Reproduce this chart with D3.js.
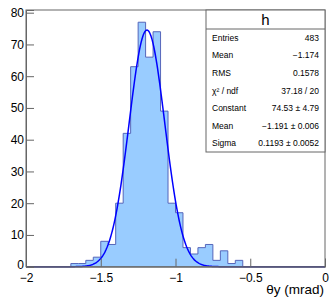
<!DOCTYPE html>
<html>
<head>
<meta charset="utf-8">
<script src="https://cdn.jsdelivr.net/npm/d3@7"></script>
<style>
	body{margin:0;background:#fff;}
	svg{display:block;font-family:"Liberation Sans",Arial,sans-serif;}
</style>
</head>
<body>
<svg id="chart" width="333" height="300"></svg>
<script>
// histogram h : 40 bins from -2 to 0
var xLow = -2, xHigh = 0;
var counts = [0,0,0,0,0,0,1,1,2,3,8,7,20,42,63,77,66,74,49,20,17,6,4,6,7,2,5,1,2,0,0,0,0,0,0,0,0,0,0,0];
var xTicks = [-2,-1.5,-1,-0.5,0];
var yTicks = [0,10,20,30,40,50,60,70,80];
var yMax = 80.85;

// gaus fit parameters (Constant, Mean, Sigma)
var fitParams = [74.53, -1.191, 0.1193];

var statLabels = ["Entries","Mean","RMS","\u03c7\u00b2 / ndf","Constant","Mean","Sigma"];
var statValues = ["483","\u22121.174","0.1578","37.18 / 20","74.53 \u00b1 4.79","\u22121.191 \u00b1 0.006","0.1193 \u00b1 0.0052"];

var L = 26, R = 325, T = 10, B = 266.7;
var svg = d3.select('#chart');

var x = d3.scaleLinear().domain([xLow, xHigh]).range([L, R]);
var y = d3.scaleLinear().domain([0, yMax]).range([B, T]);

var binW = (xHigh - xLow) / counts.length;
var pts = counts.map(function(c, i){ return [xLow + i*binW, c]; });
pts.push([xHigh, counts[counts.length-1]]);

svg.append('path')
	.datum(pts)
	.attr('fill', '#99ccff')
	.attr('d', d3.area().curve(d3.curveStepAfter)
		.x(function(d){ return x(d[0]); })
		.y0(y(0))
		.y1(function(d){ return y(d[1]); }));

svg.append('path')
	.datum(pts)
	.attr('fill', 'none')
	.attr('stroke', '#5566bb')
	.attr('stroke-width', 1)
	.attr('d', d3.line().curve(d3.curveStepAfter)
		.x(function(d){ return x(d[0]); })
		.y(function(d){ return y(d[1]); }));

// fit curve
var gaus = function(v){
	var t = (v - fitParams[1]) / fitParams[2];
	return fitParams[0] * Math.exp(-0.5*t*t);
};
var fx = x.ticks(400);
svg.append('path')
	.datum(fx)
	.attr('fill', 'none')
	.attr('stroke', '#0000ff')
	.attr('stroke-width', 1.5)
	.attr('d', d3.line()
		.x(function(d){ return x(d); })
		.y(function(d){ return y(gaus(d)); }));

// frame
svg.append('rect')
	.attr('x', L).attr('y', T)
	.attr('width', R - L).attr('height', B - T)
	.attr('fill', 'none').attr('stroke', '#666');

var fmt = d3.format('');

var gx = svg.append('g').attr('transform', 'translate(0,' + B + ')');
gx.call(d3.axisBottom(x).tickValues(x.ticks(20)).tickSize(-4).tickFormat(''));
gx.call(d3.axisBottom(x).tickValues(xTicks).tickSize(-8).tickPadding(7).tickFormat(fmt));

var gy = svg.append('g').attr('transform', 'translate(' + L + ',0)');
gy.call(d3.axisLeft(y).tickValues(y.ticks(40)).tickSize(-4).tickFormat(''));
gy.call(d3.axisLeft(y).tickValues(yTicks).tickSize(-8).tickPadding(2).tickFormat(fmt));

svg.selectAll('.domain').attr('stroke', '#666');
svg.selectAll('.tick line').attr('stroke', '#666');
svg.selectAll('.tick text').attr('font-size', 12).attr('fill', '#000')
	.attr('font-family', '"Liberation Sans",Arial,sans-serif');
// keep the y "0" clear of the x "-2"
gy.selectAll('.tick text').filter(function(d){ return d === 0; }).attr('y', -2);

svg.append('text')
	.attr('x', R - 1).attr('y', 294)
	.attr('text-anchor', 'end')
	.attr('font-size', 13.5)
	.text('\u03b8y (mrad)');

// stats box
var sx = 206, sw = R - sx, sy = T, sh = 142, hh = 19;
var box = svg.append('g');
box.append('rect').attr('x', sx).attr('y', sy).attr('width', sw).attr('height', sh)
	.attr('fill', '#fff').attr('stroke', '#666');
box.append('line').attr('x1', sx).attr('x2', sx + sw).attr('y1', sy + hh).attr('y2', sy + hh)
	.attr('stroke', '#666');
box.append('text').attr('x', sx + sw/2).attr('y', sy + 15).attr('text-anchor', 'middle')
	.attr('font-size', 15).text('h');

var rowH = (sh - hh) / statLabels.length;
var rows = box.selectAll('g.row').data(statLabels).enter().append('g')
	.attr('transform', function(d, i){ return 'translate(0,' + (sy + hh + rowH*(i + 0.5) + 3) + ')'; });
rows.append('text').attr('x', sx + 6).attr('font-size', 8.5).text(function(d){ return d; });
rows.append('text').attr('x', sx + sw - 6).attr('text-anchor', 'end').attr('font-size', 8.5)
	.text(function(d, i){ return statValues[i]; });
</script>
</body>
</html>
